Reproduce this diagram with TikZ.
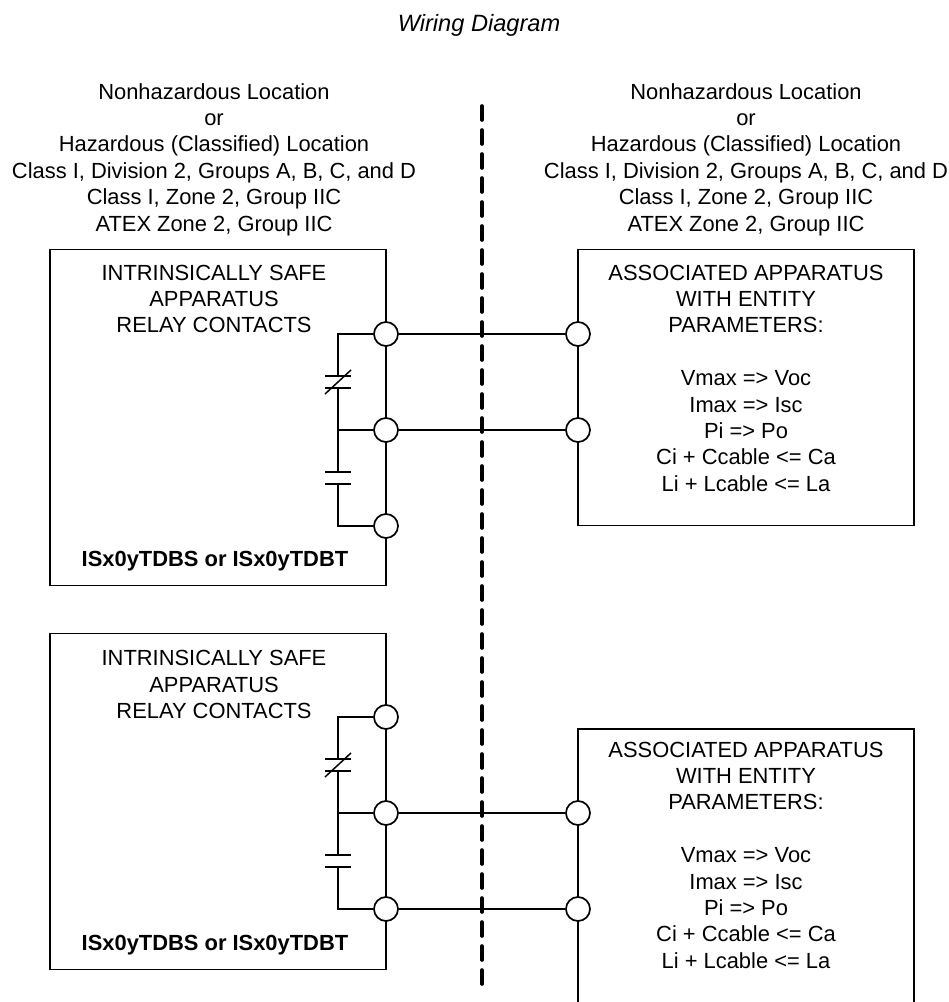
\documentclass[tikz,border=0pt]{standalone}
\usepackage{fontspec}
\setmainfont{Liberation Sans}
\usetikzlibrary{positioning}
\tikzset{
  term/.style={circle, draw, fill=white, line width=1.7pt, minimum size=24pt, inner sep=0pt},
  wire/.style={line width=1.7pt},
  plate/.style={line width=1.5pt},
  boxline/.style={line width=1.7pt},
  apbox/.style={draw, boxline, outer sep=0pt, anchor=north west, minimum width=336pt},
  barrier/.style={line width=3.6pt, line cap=round, dash pattern=on 14pt off 10pt},
  label/.style={align=center, font=\fontsize{21.9}{26.4}\selectfont, inner sep=0pt},
  boldlabel/.style={label, font=\fontsize{21.9}{26.4}\selectfont\bfseries},
}
\begin{document}
\begin{tikzpicture}[x=1pt, y=-1pt]
  \useasboundingbox (0,0) rectangle (949,1002);
  \node[label, font=\fontsize{23.6}{26.4}\selectfont\itshape] (title) at (479,25) {Wiring Diagram};

  % location captions
  \node[label] (locleft) at (214,159.5) {Nonhazardous Location\\or\\Hazardous (Classified) Location\\Class I, Division 2, Groups A, B, C, and D\\Class I, Zone 2, Group IIC\\ATEX Zone 2, Group IIC};
  \node[label] (locright) at (746,159.5) {Nonhazardous Location\\or\\Hazardous (Classified) Location\\Class I, Division 2, Groups A, B, C, and D\\Class I, Zone 2, Group IIC\\ATEX Zone 2, Group IIC};

  % barrier
  \coordinate (bartop) at (482,106);
  \coordinate (barbot) at (482,985);
  \draw[barrier] (bartop) -- (barbot);

  % apparatus boxes
  \node[apbox, minimum height=336pt] (appa) at (50,249.5) {};
  \node[apbox, minimum height=276pt] (assoca) at (578,249.5) {};
  \node[apbox, minimum height=336pt] (appb) at (50,633.5) {};
  \coordinate (assocbl) at (578,1002);
  \coordinate (assocbtl) at (578,729);
  \coordinate (assocbtr) at (914,729);
  \coordinate (assocbr) at (914,1002);
  \draw[boxline] (assocbl) -- (assocbtl) -- (assocbtr) -- (assocbr);

  % box texts
  \node[label] (appatext) at (214,299) {INTRINSICALLY SAFE\\APPARATUS\\RELAY CONTACTS};
  \node[boldlabel] (appaname) at (215,561) {ISx0yTDBS or ISx0yTDBT};
  \node[label] (appbtext) at (214,684.5) {INTRINSICALLY SAFE\\APPARATUS\\RELAY CONTACTS};
  \node[boldlabel] (appbname) at (215,945) {ISx0yTDBS or ISx0yTDBT};
  \node[label] (assocatext) at (746,299) {ASSOCIATED APPARATUS\\WITH ENTITY\\PARAMETERS:};
  \node[label] (assocaval) at (746,431) {Vmax => Voc\\Imax => Isc\\Pi => Po\\Ci + Ccable <= Ca\\Li + Lcable <= La};
  \node[label] (assocbtext) at (746,776) {ASSOCIATED APPARATUS\\WITH ENTITY\\PARAMETERS:};
  \node[label] (assocbval) at (746,908) {Vmax => Voc\\Imax => Isc\\Pi => Po\\Ci + Ccable <= Ca\\Li + Lcable <= La};

  % terminals
  \node[term] (ta1) at (386,334) {};
  \node[term] (ta2) at (386,430) {};
  \node[term] (ta3) at (386,526) {};
  \node[term] (ra1) at (578,334) {};
  \node[term] (ra2) at (578,430) {};
  \node[term] (tb1) at (386,717) {};
  \node[term] (tb2) at (386,813) {};
  \node[term] (tb3) at (386,909) {};
  \node[term] (rb2) at (578,813) {};
  \node[term] (rb3) at (578,909) {};

  % field wiring
  \draw[wire] (ta1) -- (ra1);
  \draw[wire] (ta2) -- (ra2);
  \draw[wire] (tb2) -- (rb2);
  \draw[wire] (tb3) -- (rb3);

  % upper relay contacts
  \coordinate (ana) at (338,376);
  \coordinate (anb) at (338,388);
  \coordinate (aja) at (338,430);
  \coordinate (ana2) at (338,472);
  \coordinate (anb2) at (338,484);
  \draw[wire] (ta1) -| (ana);
  \draw[wire] (anb) -- (ana2);
  \draw[wire] (aja) -- (ta2);
  \draw[wire] (anb2) |- (ta3);
  \draw[plate] ([xshift=-13pt]ana) -- ([xshift=13pt]ana);
  \draw[plate] ([xshift=-13pt]anb) -- ([xshift=13pt]anb);
  \draw[plate] ([xshift=-13pt,yshift=-6pt]anb) -- ([xshift=13pt,yshift=6pt]ana);
  \draw[plate] ([xshift=-13pt]ana2) -- ([xshift=13pt]ana2);
  \draw[plate] ([xshift=-13pt]anb2) -- ([xshift=13pt]anb2);

  % lower relay contacts
  \coordinate (bna) at (338,759);
  \coordinate (bnb) at (338,771);
  \coordinate (bja) at (338,813);
  \coordinate (bna2) at (338,855);
  \coordinate (bnb2) at (338,867);
  \draw[wire] (tb1) -| (bna);
  \draw[wire] (bnb) -- (bna2);
  \draw[wire] (bja) -- (tb2);
  \draw[wire] (bnb2) |- (tb3);
  \draw[plate] ([xshift=-13pt]bna) -- ([xshift=13pt]bna);
  \draw[plate] ([xshift=-13pt]bnb) -- ([xshift=13pt]bnb);
  \draw[plate] ([xshift=-13pt,yshift=-6pt]bnb) -- ([xshift=13pt,yshift=6pt]bna);
  \draw[plate] ([xshift=-13pt]bna2) -- ([xshift=13pt]bna2);
  \draw[plate] ([xshift=-13pt]bnb2) -- ([xshift=13pt]bnb2);
\end{tikzpicture}
\end{document}
